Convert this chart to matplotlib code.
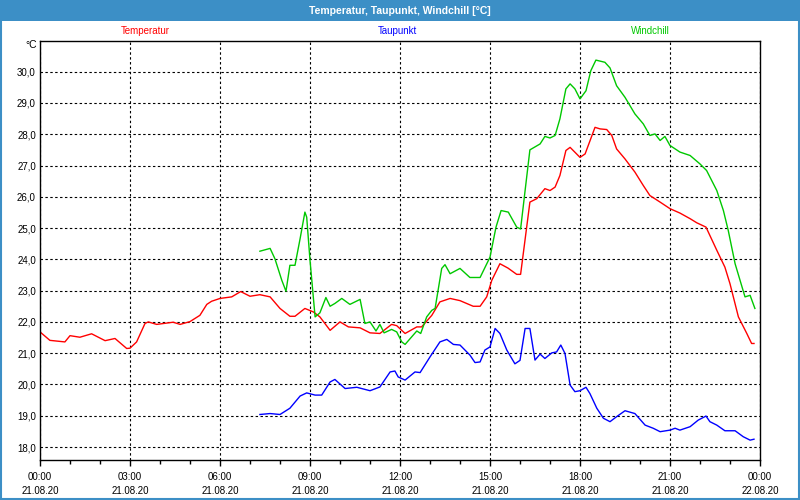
import matplotlib
matplotlib.use("Agg")
import matplotlib.pyplot as plt
from matplotlib.patches import Rectangle

# hours since 21.08.20 00:00
temp_h = [0.0, 0.33, 0.83, 1.0, 1.33, 1.72, 2.17, 2.5, 2.89, 3.0, 3.22, 3.5, 3.61, 3.89,
          4.44, 4.67, 5.0, 5.33, 5.56, 5.72, 6.0, 6.39, 6.69, 7.0, 7.33, 7.67, 8.0, 8.33,
          8.5, 8.83, 9.11, 9.33, 9.67, 10.0, 10.28, 10.67, 11.0, 11.33, 11.72, 11.89,
          12.17, 12.56, 12.72, 13.06, 13.33, 13.67, 14.0, 14.44, 14.67, 14.89, 15.06,
          15.33, 15.6, 15.89, 16.02, 16.33, 16.56, 16.83, 17.0, 17.17, 17.33, 17.53,
          17.67, 18.0, 18.17, 18.5, 18.67, 18.89, 19.06, 19.22, 19.5, 19.83, 20.11,
          20.33, 20.67, 21.0, 21.33, 21.67, 21.89, 22.2, 22.56, 22.83, 23.0, 23.28,
          23.56, 23.72, 23.8]
temp = [21.68, 21.41, 21.36, 21.56, 21.51, 21.62, 21.40, 21.47, 21.15, 21.16, 21.36, 21.95,
        22.00, 21.92, 21.99, 21.92, 22.01, 22.21, 22.56, 22.66, 22.75, 22.80, 22.97, 22.82,
        22.87, 22.80, 22.43, 22.18, 22.18, 22.43, 22.32, 22.16, 21.73, 22.00, 21.84, 21.81,
        21.65, 21.63, 21.92, 21.88, 21.63, 21.84, 21.84, 22.21, 22.64, 22.75, 22.68, 22.50,
        22.50, 22.80, 23.33, 23.86, 23.72, 23.52, 23.52, 25.83, 25.94, 26.26, 26.20, 26.31,
        26.68, 27.48, 27.58, 27.26, 27.37, 28.22, 28.17, 28.15, 27.96, 27.53, 27.21, 26.79,
        26.36, 26.04, 25.83, 25.62, 25.48, 25.30, 25.17, 25.03, 24.29, 23.75, 23.22, 22.16,
        21.63, 21.31, 21.31]

dew_h = [7.33, 7.67, 8.0, 8.33, 8.67, 8.89, 9.17, 9.39, 9.67, 9.83, 10.17, 10.56, 11.0,
         11.33, 11.67, 11.83, 11.94, 12.17, 12.5, 12.67, 13.0, 13.33, 13.56, 13.78, 14.0,
         14.33, 14.5, 14.67, 14.83, 15.0, 15.17, 15.33, 15.56, 15.83, 16.0, 16.17, 16.33,
         16.5, 16.67, 16.83, 17.06, 17.22, 17.36, 17.5, 17.67, 17.83, 18.0, 18.2, 18.33,
         18.56, 18.78, 19.0, 19.22, 19.5, 19.83, 20.17, 20.44, 20.67, 21.0, 21.17, 21.33,
         21.67, 21.94, 22.2, 22.33, 22.56, 22.83, 23.17, 23.44, 23.67, 23.8]
dew = [19.04, 19.07, 19.04, 19.24, 19.63, 19.73, 19.66, 19.66, 20.08, 20.16, 19.87, 19.91,
       19.80, 19.92, 20.40, 20.43, 20.24, 20.14, 20.40, 20.38, 20.88, 21.36, 21.44, 21.28,
       21.26, 20.94, 20.70, 20.72, 21.10, 21.20, 21.79, 21.63, 21.10, 20.66, 20.77, 21.79,
       21.79, 20.78, 20.97, 20.83, 21.01, 21.04, 21.26, 20.99, 19.98, 19.77, 19.80, 19.91,
       19.71, 19.24, 18.92, 18.81, 18.97, 19.16, 19.07, 18.70, 18.60, 18.49, 18.54, 18.60,
       18.54, 18.65, 18.86, 18.99, 18.81, 18.70, 18.52, 18.52, 18.33, 18.22, 18.25]

wc_h = [7.33, 7.67, 7.83, 8.06, 8.2, 8.33, 8.5, 8.67, 8.83, 8.89, 9.0, 9.17, 9.33, 9.53,
        9.67, 9.83, 10.06, 10.33, 10.67, 10.83, 11.0, 11.2, 11.33, 11.47, 11.72, 11.89,
        12.06, 12.17, 12.56, 12.69, 12.89, 13.06, 13.17, 13.39, 13.5, 13.67, 14.0, 14.33,
        14.67, 15.0, 15.2, 15.37, 15.61, 15.89, 16.02, 16.17, 16.33, 16.67, 16.83, 17.0,
        17.17, 17.33, 17.53, 17.67, 17.83, 18.0, 18.2, 18.36, 18.53, 18.83, 19.0, 19.22,
        19.5, 19.83, 20.11, 20.33, 20.5, 20.67, 20.83, 21.0, 21.33, 21.67, 22.0, 22.22,
        22.56, 22.78, 22.94, 23.17, 23.5, 23.67, 23.83]
wc = [24.26, 24.35, 24.02, 23.33, 22.98, 23.81, 23.81, 24.66, 25.51, 25.35, 23.97, 22.16,
      22.29, 22.78, 22.50, 22.59, 22.75, 22.56, 22.72, 21.95, 22.00, 21.71, 21.92, 21.65,
      21.76, 21.68, 21.36, 21.28, 21.71, 21.63, 22.16, 22.37, 22.43, 23.71, 23.83, 23.54,
      23.71, 23.42, 23.42, 24.07, 25.03, 25.56, 25.51, 25.03, 24.97, 26.20, 27.50, 27.69,
      27.93, 27.88, 27.96, 28.49, 29.45, 29.61, 29.45, 29.13, 29.39, 30.03, 30.37, 30.30,
      30.12, 29.55, 29.18, 28.65, 28.33, 27.96, 28.01, 27.80, 27.93, 27.64, 27.43, 27.32,
      27.05, 26.84, 26.20, 25.56, 24.93, 23.86, 22.80, 22.85, 22.43]

tick_times = ["00:00", "03:00", "06:00", "09:00", "12:00", "15:00", "18:00", "21:00", "00:00"]
tick_dates = ["21.08.20"] * 8 + ["22.08.20"]
y_ticks = [18, 19, 20, 21, 22, 23, 24, 25, 26, 27, 28, 29, 30]

BAR = "#3c8fc6"
plt.rcParams['font.family'] = ['Liberation Sans', 'DejaVu Sans']

fig = plt.figure(figsize=(8, 5), dpi=100)
fig.patch.set_facecolor("white")

# title bar and border
fig.patches.append(Rectangle((0, 1 - 21 / 500), 1, 21 / 500, transform=fig.transFigure,
                             facecolor=BAR, edgecolor="none", zorder=0))
fig.patches.append(Rectangle((0.5 / 800, 1.5 / 500), 1 - 2 / 800, 1 - 3 / 500,
                             transform=fig.transFigure, facecolor="none",
                             edgecolor=BAR, lw=1.5, zorder=0))
fig.text(0.5, 1 - 10.5 / 500, "Temperatur, Taupunkt, Windchill [°C]", color="white",
         ha="center", va="center", fontsize=7.5, fontweight="bold")

ax = fig.add_axes([40 / 800, 40 / 500, 720 / 800, 419.3 / 500])
ax.plot(temp_h, temp, color="#ff0000", lw=1.0)
ax.plot(dew_h, dew, color="#0000ff", lw=1.0)
ax.plot(wc_h, wc, color="#00c800", lw=1.0)

ax.set_xlim(0, 24)
ax.set_ylim(17.585, 30.99)
ax.set_xticks(range(0, 25, 3))
ax.set_xticks(range(0, 25), minor=True)
ax.set_xticklabels([t + "\n" + d for t, d in zip(tick_times, tick_dates)], fontsize=7,
                   linespacing=1.45)
ax.set_yticks(y_ticks)
ax.set_yticklabels([f"{v:.1f}".replace(".", ",") for v in y_ticks], fontsize=7)
ax.tick_params(axis="y", length=0, pad=3)
ax.tick_params(axis="x", which="major", length=4, width=1, pad=5)
ax.tick_params(axis="x", which="minor", length=3, width=1)
ax.grid(True, which="major", color="black", linestyle=(0, (2.2, 2.2)), lw=0.8)
for s in ax.spines.values():
    s.set_linewidth(1.0)

fig.text(37 / 800, 1 - 45 / 500, "°C", ha="right", va="center", fontsize=7.5)
fig.text(145 / 800, 1 - 31 / 500, "Temperatur", color="#ff0000", ha="center",
         va="center", fontsize=7)
fig.text(397 / 800, 1 - 31 / 500, "Taupunkt", color="#0000ff", ha="center",
         va="center", fontsize=7)
fig.text(650 / 800, 1 - 31 / 500, "Windchill", color="#00c800", ha="center",
         va="center", fontsize=7)

fig.savefig("out.png", dpi=100)
